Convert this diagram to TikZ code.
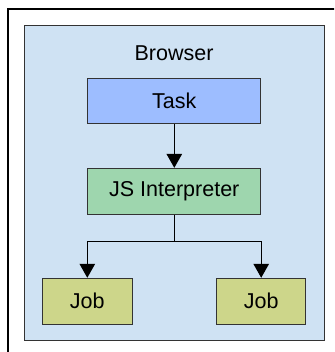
\documentclass[tikz,border=0pt]{standalone}
\usepackage{fontspec}
\setmainfont{Liberation Sans}
\usetikzlibrary{arrows.meta,positioning}

\definecolor{browserbg}{HTML}{CFE2F3}
\definecolor{taskfill}{HTML}{9DBDFF}
\definecolor{jsfill}{HTML}{9ED6AE}
\definecolor{jobfill}{HTML}{CDD68A}

\begin{document}
\begin{tikzpicture}[x=1pt,y=1pt]
            \tikzstyle{state}=[rectangle,draw=black!80,line width=1pt,font=\fontsize{21.5}{25}\selectfont,inner sep=0pt]
            \tikzstyle{every edge}=[draw,line width=1.2pt]

            \tikzstyle{T}=[state,fill=taskfill,minimum width=172.7pt,minimum height=45.3pt]  % task
            \tikzstyle{I}=[state,fill=jsfill,minimum width=172.7pt,minimum height=45.7pt]    % interpreter
            \tikzstyle{J}=[state,fill=jobfill,minimum width=89.5pt,minimum height=46pt]      % job
            \tikzstyle{tip}=[-{Triangle[length=14pt,width=15.5pt]}]

            \clip (0,0) rectangle (334,352);
            \draw[line width=1.3pt] (8,-10) rectangle (350,343);

            \node[state,fill=browserbg,minimum width=300pt,minimum height=315pt] (0) at (174,168.5) {};
            \node[font=\fontsize{21.5}{25}\selectfont] (b) at (174,299) {Browser};

            \node[T] (1) at (174.3,251.3) {Task};
            \node[I] (2) at (174.3,160.8) {JS Interpreter};
            \node[J] (3) at ( 87.3, 50.7) {Job};
            \node[J] (4) at (261.2, 50.7) {Job};

            \coordinate (s) at (174.3,110.3);

            \path[tip] (1) edge (2);
            \draw[line width=1.2pt] (2) -- (s);
            \draw[tip,line width=1.2pt] (s) -| (3);
            \draw[tip,line width=1.2pt] (s) -| (4);
        \end{tikzpicture}
\end{document}
